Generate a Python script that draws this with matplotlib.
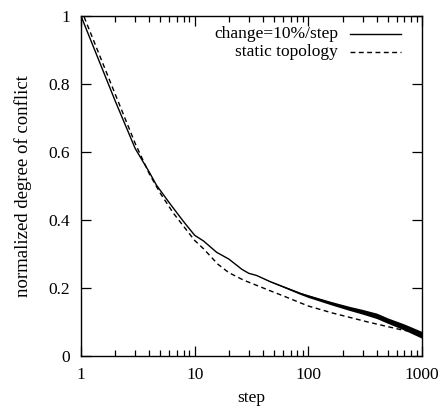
import matplotlib
matplotlib.use("Agg")
import matplotlib.pyplot as plt
import numpy as np
from matplotlib.ticker import FixedLocator, LogLocator, NullFormatter, NullLocator

# Значения
change_steps = [1, 2, 3, 4, 4.6, 6, 8, 10, 12, 15.6, 20, 26, 30, 35, 46, 60,
                85, 100, 160, 230, 300, 400, 500, 700, 1000]
change_vals = [1.0, 0.75, 0.61, 0.54, 0.503, 0.45, 0.395, 0.355, 0.338, 0.305,
               0.285, 0.255, 0.243, 0.237, 0.219, 0.204, 0.184, 0.176, 0.155,
               0.14, 0.13, 0.118, 0.104, 0.085, 0.062]
# разброс (шум) кривой change, по тем же шагам
change_spread = [0, 0, 0, 0, 0, 0, 0, 0, 0, 0, 0, 0, 0, 0, 0.001, 0.002,
                 0.003, 0.004, 0.005, 0.006, 0.007, 0.008, 0.008, 0.009, 0.01]

static_steps = [1, 2, 3, 4, 5, 6.5, 8.5, 10, 12, 16, 20, 27, 35, 46, 60, 80,
                100, 165, 325, 640, 1000]
static_vals = [1.02, 0.77, 0.625, 0.535, 0.478, 0.42, 0.37, 0.34, 0.315, 0.27,
               0.245, 0.223, 0.208, 0.192, 0.177, 0.16, 0.147, 0.126, 0.101,
               0.078, 0.065]

x_ticks = [1, 10, 100, 1000]
x_labels = ["1", "10", "100", "1000"]
y_ticks = [0, 0.2, 0.4, 0.6, 0.8, 1.0]
y_labels = ["0", "0.2", "0.4", "0.6", "0.8", "1"]

plt.rcParams["font.family"] = ["Liberation Serif", "DejaVu Serif"]
FS = 12.5

fig = plt.figure(figsize=(4.4, 4.11), dpi=100)
ax = fig.add_axes([81 / 440, 1 - 356 / 411, 341 / 440, 340 / 411])

ax.plot(change_steps, change_vals, color="black", linewidth=1.0)
lo = np.array(change_vals) - np.array(change_spread)
hi = np.array(change_vals) + np.array(change_spread)
ax.fill_between(change_steps, lo, hi, color="black", linewidth=0)
ax.plot(static_steps, static_vals, color="black", linewidth=1.0,
        linestyle=(0, (3.5, 2.5)))

ax.set_xscale("log")
ax.set_xlim(1, 1000)
ax.set_ylim(0, 1)
ax.xaxis.set_major_locator(FixedLocator(x_ticks))
ax.set_xticklabels(x_labels)
ax.xaxis.set_minor_locator(LogLocator(base=10, subs=np.arange(2, 10)))
ax.xaxis.set_minor_formatter(NullFormatter())
ax.set_yticks(y_ticks)
ax.set_yticklabels(y_labels)
ax.yaxis.set_minor_locator(NullLocator())

ax.tick_params(which="both", direction="in", top=True, right=True,
               labelsize=FS, colors="black")
ax.tick_params(which="major", length=7, width=0.9)
ax.tick_params(which="minor", length=4, width=0.9)
ax.tick_params(axis="x", pad=8)
ax.tick_params(axis="y", pad=8)
for sp in ax.spines.values():
    sp.set_linewidth(1.0)

ax.set_xlabel("step", fontsize=FS, labelpad=5)
ax.set_ylabel("normalized degree of conflict", fontsize=13.5, labelpad=12)

# Легенда в стиле gnuplot: текст выровнен вправо, образец линии после него
legend_rows = [("change=10%/step", "-"), ("static topology", (0, (3.5, 2.5)))]
for i, (name, ls) in enumerate(legend_rows):
    yy = 1 - (18 + i * 18) / 340
    ax.text((338 - 81) / 341, yy, name, transform=ax.transAxes,
            ha="right", va="center", fontsize=FS)
    ax.plot([(350 - 81) / 341, (401 - 81) / 341], [yy, yy],
            transform=ax.transAxes, color="black", linewidth=1.0, linestyle=ls)

fig.savefig("out.png", dpi=100)
